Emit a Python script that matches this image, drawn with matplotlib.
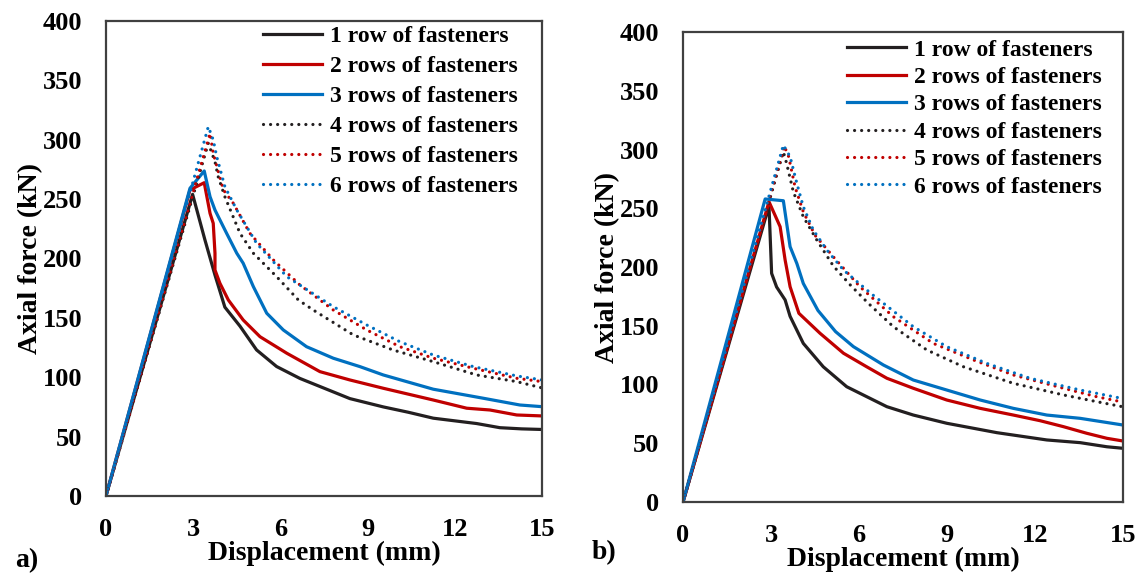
import matplotlib
matplotlib.use("Agg")
import matplotlib.pyplot as plt

plt.rcParams["font.family"] = ["Liberation Serif", "DejaVu Serif"]
plt.rcParams["font.weight"] = "bold"

# series names
labels = ["1 row of fasteners", "2 rows of fasteners", "3 rows of fasteners",
          "4 rows of fasteners", "5 rows of fasteners", "6 rows of fasteners"]

# panel a) displacement (mm) / axial force (kN)
a_x1 = [0, 2.98, 3.4, 3.75, 4.09, 4.61, 5.18, 5.87, 6.67, 7.48, 8.39, 9.54, 10.4, 11.26, 12.75, 13.55, 14.3, 15]
a_y1 = [0, 254, 216, 186, 159, 143, 123, 109, 99, 91, 82, 75, 70.5, 65.5, 61, 57.5, 56.5, 56]
a_x2 = [0, 2.89, 3.38, 3.58, 3.69, 3.75, 3.75, 3.92, 4.21, 4.72, 5.3, 6.22, 7.36, 8.39, 9.54, 11.26, 12.41, 13.21, 14.13, 15]
a_y2 = [0, 257.7, 263.8, 238, 229.6, 204.4, 190.3, 179.1, 165, 148.2, 134.1, 120.2, 104.7, 97.7, 90.7, 80.8, 73.9, 72.4, 68.2, 67.4]
a_x3 = [0, 2.89, 3.38, 3.58, 3.75, 4.15, 4.5, 4.72, 5.07, 5.53, 6.1, 6.9, 7.82, 8.74, 9.54, 11.26, 12.98, 14.24, 15]
a_y3 = [0, 259.1, 273.7, 252, 240.8, 221.2, 204.4, 196, 176.3, 153.9, 139.8, 125.7, 116, 108.9, 101.9, 89.9, 82.3, 76.6, 75.2]
a_x4 = [0, 3.52, 3.75, 3.86, 4.09, 4.61, 5.07, 5.87, 6.62, 7.13, 8.51, 9.88, 11.26, 12.75, 14.13, 15]
a_y4 = [0, 297, 281.5, 268.9, 252, 221.2, 204.4, 184.7, 165, 156.6, 135.6, 122.9, 113.1, 101.9, 96.3, 91]
a_x5 = [0, 3.58, 3.69, 4.04, 4.38, 4.95, 5.76, 6.67, 7.82, 8.97, 10.11, 11.26, 12.64, 14.13, 15]
a_y5 = [0, 305.4, 288.6, 257.7, 246.5, 221.2, 198.7, 177.7, 156.6, 139.8, 125.7, 116, 107.5, 99.1, 96.3]
a_x6 = [0, 3.52, 3.69, 3.81, 4.09, 4.5, 5.18, 6.22, 7.82, 8.97, 10.11, 11.26, 12.64, 14.13, 15]
a_y6 = [0, 311, 299.8, 285.7, 260.5, 240.8, 212.8, 184.7, 159.4, 144, 129.9, 118.7, 108.9, 101.1, 97.7]

# panel b)
b_x1 = [0, 2.93, 3.02, 3.19, 3.48, 3.65, 4.1, 4.78, 5.58, 6.49, 6.95, 7.85, 8.99, 10.7, 12.4, 13.54, 14.45, 15]
b_y1 = [0, 252, 194.6, 183, 172, 158, 135, 115.1, 98.1, 86.8, 81.1, 74, 67, 59, 52.8, 50.5, 47, 45.7]
b_x2 = [0, 2.93, 3.31, 3.48, 3.65, 3.95, 4.67, 5.47, 6.26, 6.95, 7.85, 8.99, 10.13, 11.26, 12.17, 12.97, 13.76, 14.45, 15]
b_y2 = [0, 255.6, 234.3, 206, 183.2, 160.6, 143.6, 126.6, 115.1, 105.3, 96.8, 86.8, 79.7, 74, 69.2, 64.1, 58.5, 54.2, 51.9]
b_x3 = [0, 2.8, 3.42, 3.65, 3.88, 4.1, 4.6, 5.2, 5.81, 6.83, 7.85, 8.99, 10.13, 11.26, 12.4, 13.54, 15]
b_y3 = [0, 257.9, 256.4, 217.3, 203, 186, 163, 145, 132.2, 116.6, 103.8, 95.3, 86.8, 79.7, 74, 71.2, 65.5]
b_x4 = [0, 3.42, 3.53, 3.76, 4.1, 4.56, 5.12, 5.69, 6.32, 7.17, 8.31, 9.56, 11.26, 12.97, 14.1, 15]
b_y4 = [0, 298, 288.3, 264, 242.8, 223, 201, 185, 169, 149.2, 129.4, 115.1, 101, 91.1, 85.4, 81]
b_x5 = [0, 3.45, 3.6, 3.82, 4.1, 4.5, 5.12, 6.03, 7.17, 8.53, 9.9, 11.26, 12.97, 14.1, 15]
b_y5 = [0, 303, 294, 268, 247, 227, 208.8, 183.2, 157.7, 135, 120.9, 108.1, 96.8, 89.6, 85]
b_x6 = [0, 3.42, 3.65, 3.88, 4.1, 4.44, 4.9, 5.47, 6.4, 7.85, 8.99, 10.35, 11.83, 13.54, 15]
b_y6 = [0, 303.8, 293.9, 271.2, 251.3, 231.5, 214.5, 197.4, 177.6, 149.2, 132.2, 118, 105.3, 95.3, 88]

colors = ["#231f20", "#c00000", "#0070c0", "#231f20", "#c00000", "#0070c0"]
dots = (0, (0.01, 2.2))
styles = ["-", "-", "-", dots, dots, dots]


def draw_panel(ax, xs, ys, legend_anchor, spacing):
    for x, y, c, ls, lab in zip(xs, ys, colors, styles, labels):
        ax.plot(x, y, color=c, linestyle=ls, linewidth=2.3, label=lab,
                solid_joinstyle="round", dash_capstyle="round")
    ax.set_xlim(0, 15)
    ax.set_ylim(0, 400)
    ax.set_xticks(range(0, 16, 3))
    ax.set_yticks(range(0, 401, 50))
    ax.tick_params(length=0, labelsize=19, pad=17)
    ax.tick_params(axis="x", pad=16)
    for s in ax.spines.values():
        s.set_color("#404040")
        s.set_linewidth(1.6)
    ax.set_xlabel("Displacement (mm)", fontsize=20, fontweight="bold", labelpad=0)
    ax.set_ylabel("Axial force (kN)", fontsize=20, fontweight="bold", labelpad=0)
    ax.legend(loc="upper left", bbox_to_anchor=legend_anchor, frameon=False,
              fontsize=17, handlelength=2.5, handletextpad=0.35,
              labelspacing=spacing, borderpad=0, borderaxespad=0)


fig = plt.figure(figsize=(11.42, 5.79), dpi=100)
ax1 = fig.add_axes([0.0928, 0.1434, 0.3818, 0.8204])
ax2 = fig.add_axes([0.5981, 0.1330, 0.3853, 0.8117])

draw_panel(ax1, [a_x1, a_x2, a_x3, a_x4, a_x5, a_x6],
           [a_y1, a_y2, a_y3, a_y4, a_y5, a_y6], (0.36, 0.99), 0.36)
draw_panel(ax2, [b_x1, b_x2, b_x3, b_x4, b_x5, b_x6],
           [b_y1, b_y2, b_y3, b_y4, b_y5, b_y6], (0.373, 0.985), 0.25)

fig.text(0.013, 0.02, "a)", fontsize=20, fontweight="bold")
fig.text(0.518, 0.035, "b)", fontsize=20, fontweight="bold")

fig.savefig("out.png", dpi=100)
